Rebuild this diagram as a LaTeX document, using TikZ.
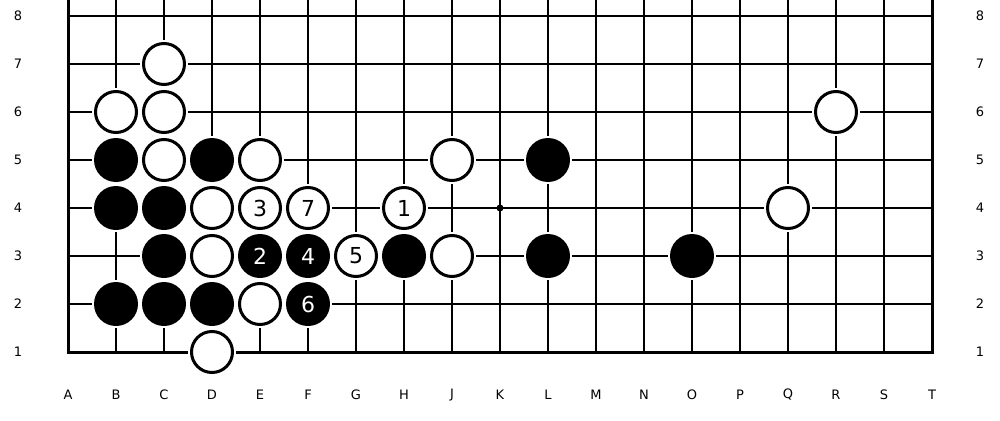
\documentclass[tikz,border=0pt]{standalone}
\usepackage{fontspec}
\setmainfont{DejaVu Sans}
\begin{document}
\begin{tikzpicture}[x=1pt,y=-1pt,
  gridline/.style={line width=1.4pt},
  boardedge/.style={line width=3pt},
  lbl/.style={font=\fontsize{13}{13}\selectfont, inner sep=0pt},
  wstone/.style={circle, draw=black, fill=white, line width=3pt, minimum size=41pt, inner sep=0pt,
    preaction={draw=white, line width=7pt}, font=\fontsize{22}{22}\selectfont},
  bstone/.style={circle, fill=black, minimum size=44pt, inner sep=0pt, text=white,
    preaction={draw=white, line width=4pt}, font=\fontsize{22}{22}\selectfont}]
\useasboundingbox (0,0) rectangle (1000,420);
% grid
\foreach \i in {1,...,17} \draw[gridline] (68+48*\i,0) -- (68+48*\i,352);
\foreach \r in {2,...,8} \draw[gridline] (68,400-48*\r) -- (932,400-48*\r);
\draw[boardedge] (68,0) -- (68,352) -- (932,352) -- (932,0);
\fill (500,208) circle (3.5);
% labels
\foreach \l [count=\i from 0] in {A,B,C,D,E,F,G,H,J,K,L,M,N,O,P,Q,R,S,T}
  \node[lbl] (col\l) at (68+48*\i,395) {\l};
\foreach \r in {1,...,8} {
  \node[lbl] (rl\r) at (18,400-48*\r) {\r};
  \node[lbl] (rr\r) at (980,400-48*\r) {\r};
}
% white stones
\node[wstone] (C7) at (164,64) {};
\node[wstone] (B6) at (116,112) {};
\node[wstone] (C6) at (164,112) {};
\node[wstone] (R6) at (836,112) {};
\node[wstone] (C5) at (164,160) {};
\node[wstone] (E5) at (260,160) {};
\node[wstone] (J5) at (452,160) {};
\node[wstone] (D4) at (212,208) {};
\node[wstone] (E4) at (260,208) {3};
\node[wstone] (F4) at (308,208) {7};
\node[wstone] (H4) at (404,208) {1};
\node[wstone] (Q4) at (788,208) {};
\node[wstone] (D3) at (212,256) {};
\node[wstone] (G3) at (356,256) {5};
\node[wstone] (J3) at (452,256) {};
\node[wstone] (E2) at (260,304) {};
\node[wstone] (D1) at (212,352) {};
% black stones
\node[bstone] (B5) at (116,160) {};
\node[bstone] (D5) at (212,160) {};
\node[bstone] (L5) at (548,160) {};
\node[bstone] (B4) at (116,208) {};
\node[bstone] (C4) at (164,208) {};
\node[bstone] (C3) at (164,256) {};
\node[bstone] (E3) at (260,256) {2};
\node[bstone] (F3) at (308,256) {4};
\node[bstone] (H3) at (404,256) {};
\node[bstone] (L3) at (548,256) {};
\node[bstone] (O3) at (692,256) {};
\node[bstone] (B2) at (116,304) {};
\node[bstone] (C2) at (164,304) {};
\node[bstone] (D2) at (212,304) {};
\node[bstone] (F2) at (308,304) {6};
\end{tikzpicture}
\end{document}
